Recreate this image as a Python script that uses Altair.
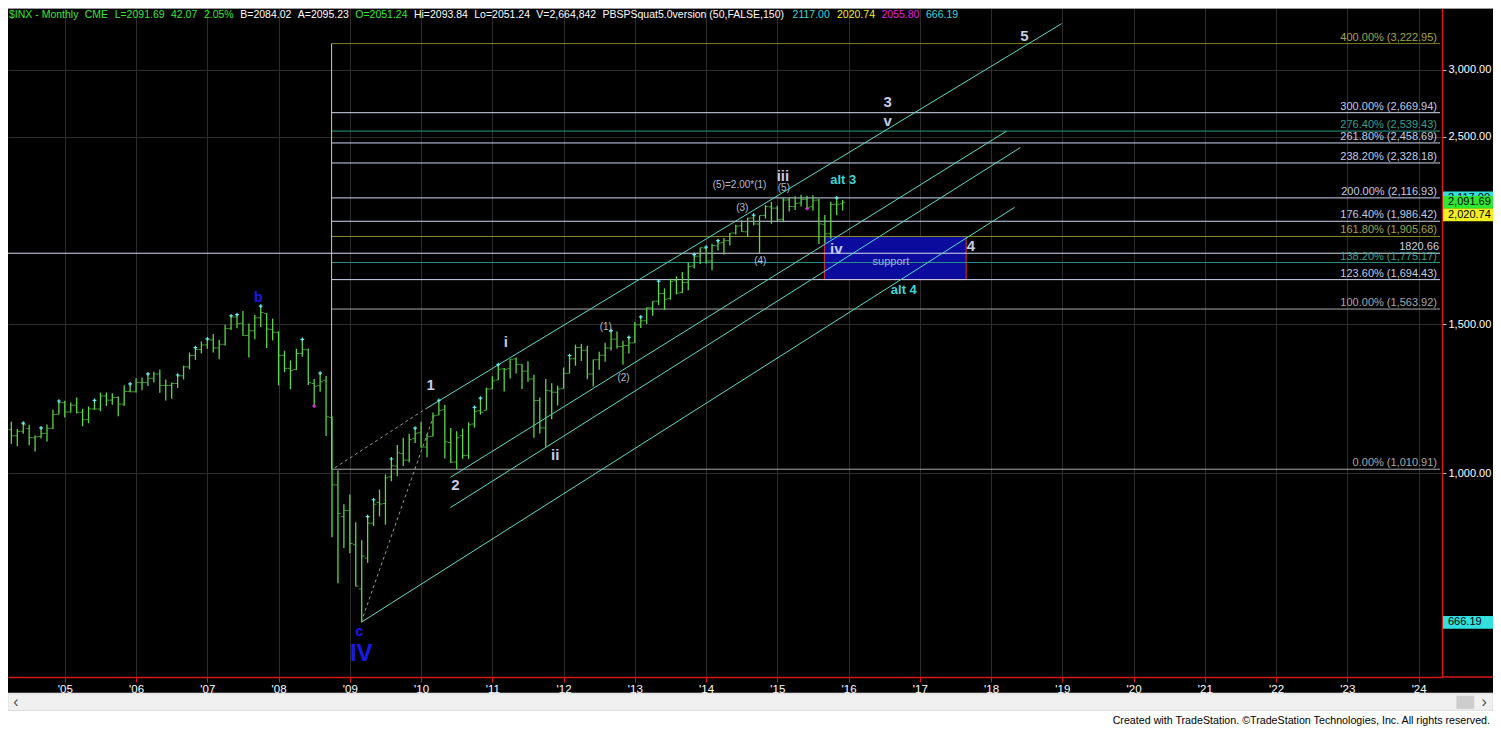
import altair as alt
import pandas as pd

# ------------------------------------------------------------------ data
first_month = "2004-04"

opens = [
    1126.2, 1107.3, 1121.2, 1128.9, 1101.7, 1105.2, 1114.6, 1130.2, 1173.8,
    1211.9, 1181.3, 1203.6, 1180.6, 1156.9, 1191.5, 1191.3, 1234.2, 1220.3, 1228.8, 1207.0, 1249.5,
    1248.3, 1280.1, 1280.7, 1294.9, 1310.6, 1270.1, 1270.2, 1276.7, 1303.8, 1335.9, 1377.9, 1400.6,
    1418.3, 1437.9, 1406.8, 1420.8, 1482.4, 1530.6, 1504.7, 1455.2, 1474.0, 1527.3, 1545.8, 1479.6,
    1468.0, 1378.6, 1330.5, 1326.4, 1386.0, 1399.6, 1276.7, 1269.4, 1287.8, 1164.2, 968.2, 888.6,
    903.0, 823.1, 729.6, 793.6, 872.7, 923.3, 920.8, 990.2, 1019.5, 1054.9, 1036.2, 1098.9,
    1116.6, 1073.9, 1105.4, 1171.2, 1188.6, 1087.3, 1031.1, 1107.5, 1049.7, 1143.5, 1185.7, 1186.6,
    1257.6, 1289.1, 1328.6, 1329.5, 1365.2, 1345.2, 1320.6, 1292.6, 1219.1, 1131.2, 1251.0, 1246.9,
    1258.9, 1312.5, 1365.9, 1408.5, 1397.9, 1310.5, 1362.3, 1379.3, 1406.5, 1440.9, 1412.2, 1416.2,
    1426.2, 1498.1, 1514.7, 1569.2, 1597.6, 1631.7, 1609.8, 1689.4, 1636.0, 1682.4, 1758.7, 1806.6,
    1845.9, 1782.7, 1857.7, 1874.0, 1884.4, 1923.9, 1962.3, 1929.8, 2004.1, 1971.4, 2018.2, 2065.8,
    2058.9, 1996.7, 2105.2, 2067.6, 2087.4, 2108.6, 2067.0, 2104.5, 1970.1, 1919.7, 2080.8, 2082.9,
]
highs = [
    1150.6, 1127.7, 1146.2, 1140.8, 1109.0, 1131.5, 1142.1, 1188.5, 1217.3,
    1217.8, 1212.2, 1229.1, 1191.9, 1199.6, 1219.6, 1245.2, 1245.9, 1243.1, 1233.3, 1270.6, 1275.8,
    1294.9, 1297.6, 1310.9, 1318.2, 1326.7, 1290.7, 1280.4, 1306.7, 1340.3, 1389.5, 1407.9, 1431.8,
    1441.6, 1461.6, 1438.9, 1498.0, 1535.6, 1540.6, 1555.9, 1503.9, 1538.7, 1576.1, 1545.8, 1523.6,
    1471.8, 1396.0, 1359.7, 1404.1, 1440.2, 1404.1, 1292.2, 1313.2, 1303.0, 1167.0, 1007.5, 918.9,
    943.9, 875.0, 833.0, 888.7, 930.2, 956.2, 996.7, 1039.5, 1080.2, 1101.4, 1113.7, 1130.4,
    1150.5, 1112.4, 1180.2, 1219.8, 1205.1, 1131.2, 1121.0, 1129.2, 1148.9, 1196.1, 1227.1, 1262.6,
    1302.7, 1344.1, 1332.3, 1364.6, 1370.6, 1345.2, 1356.5, 1307.4, 1229.3, 1292.7, 1277.6, 1269.4,
    1333.5, 1378.0, 1419.2, 1422.4, 1415.3, 1363.5, 1391.7, 1426.7, 1474.5, 1471.0, 1434.3, 1448.0,
    1509.9, 1530.9, 1570.3, 1597.6, 1687.2, 1654.2, 1698.8, 1709.7, 1729.9, 1775.2, 1813.6, 1849.4,
    1850.8, 1867.9, 1884.0, 1897.3, 1924.0, 1968.2, 1991.4, 2005.0, 2019.3, 2018.2, 2075.8, 2093.6,
    2072.4, 2119.6, 2117.5, 2125.9, 2134.7, 2129.9, 2132.8, 2112.7, 2020.9, 2094.3, 2116.5, 2104.3,
]
lows = [
    1083.3, 1076.3, 1113.3, 1078.8, 1060.7, 1099.2, 1090.2, 1127.6, 1173.8,
    1163.8, 1180.2, 1176.9, 1136.2, 1146.2, 1188.3, 1183.6, 1201.1, 1205.4, 1168.2, 1201.1, 1246.6,
    1245.7, 1253.6, 1268.4, 1280.7, 1245.3, 1219.3, 1224.5, 1261.3, 1290.9, 1327.1, 1361.0, 1385.9,
    1404.0, 1389.4, 1364.0, 1416.4, 1476.7, 1484.2, 1454.3, 1370.6, 1439.9, 1489.6, 1406.1, 1435.7,
    1270.1, 1316.8, 1257.0, 1324.4, 1373.1, 1272.0, 1200.4, 1248.6, 1106.4, 839.8, 741.0, 815.7,
    804.3, 734.5, 666.8, 783.3, 866.1, 888.9, 869.3, 978.5, 992.0, 1020.0, 1029.4, 1085.9,
    1071.6, 1044.5, 1105.4, 1170.7, 1040.8, 1028.3, 1010.9, 1039.7, 1039.7, 1131.9, 1173.0, 1186.6,
    1257.6, 1289.1, 1249.1, 1294.7, 1311.8, 1258.1, 1282.9, 1101.5, 1114.2, 1074.8, 1158.7, 1202.4,
    1258.9, 1312.5, 1340.0, 1357.4, 1292.0, 1266.7, 1325.4, 1354.7, 1396.6, 1403.3, 1343.4, 1385.1,
    1426.2, 1485.0, 1501.5, 1536.0, 1581.3, 1560.3, 1604.6, 1627.5, 1633.4, 1646.5, 1746.2, 1768.0,
    1770.5, 1737.9, 1834.4, 1814.4, 1859.8, 1916.0, 1930.7, 1904.8, 1964.0, 1820.7, 2001.0, 1972.6,
    1988.1, 1980.9, 2039.7, 2048.4, 2067.9, 2056.3, 2044.0, 1867.0, 1871.9, 1893.7, 2019.4, 2045.0,
]
closes = [
    1107.3, 1120.7, 1140.8, 1101.7, 1104.2, 1114.6, 1130.2, 1173.8, 1211.9,
    1181.3, 1203.6, 1180.6, 1156.9, 1191.5, 1191.3, 1234.2, 1220.3, 1228.8, 1207.0, 1249.5, 1248.3,
    1280.1, 1280.7, 1294.9, 1310.6, 1270.1, 1270.2, 1276.7, 1303.8, 1335.9, 1377.9, 1400.6, 1418.3,
    1438.2, 1406.8, 1420.9, 1482.4, 1530.6, 1503.4, 1455.3, 1474.0, 1526.8, 1549.4, 1481.1, 1468.4,
    1378.6, 1330.6, 1322.7, 1385.6, 1400.4, 1280.0, 1267.4, 1282.8, 1166.4, 968.8, 896.2, 903.3,
    825.9, 735.1, 797.9, 872.8, 919.1, 919.3, 987.5, 1020.6, 1057.1, 1036.2, 1095.6, 1115.1,
    1073.9, 1104.5, 1169.4, 1186.7, 1089.4, 1030.7, 1101.6, 1049.3, 1141.2, 1183.3, 1180.6, 1257.6,
    1286.1, 1327.2, 1325.8, 1363.6, 1345.2, 1320.6, 1292.3, 1218.9, 1131.4, 1253.3, 1247.0, 1257.6,
    1312.4, 1365.7, 1408.5, 1397.9, 1310.3, 1362.2, 1379.3, 1406.6, 1440.7, 1412.2, 1416.2, 1426.2,
    1498.1, 1514.7, 1569.2, 1597.6, 1630.7, 1606.3, 1685.7, 1633.0, 1681.6, 1756.5, 1805.8, 1848.4,
    1782.6, 1859.5, 1872.3, 1884.0, 1923.6, 1960.2, 1930.7, 2003.4, 1972.3, 2018.1, 2067.6, 2058.9,
    1995.0, 2104.5, 2067.9, 2085.5, 2107.4, 2063.1, 2103.8, 1972.2, 1920.0, 2079.4, 2080.4, 2091.7,
]

# indicator marks (cyan at bar highs, magenta at bar lows)
squat_high_months = ["2004-06", "2004-09", "2004-12", "2005-06", "2005-12", "2006-03", "2006-08",
                     "2006-11", "2007-01", "2007-05", "2007-06", "2007-10", "2008-05", "2008-08",
                     "2009-04", "2009-05", "2009-08", "2009-12", "2010-04", "2010-10", "2010-11",
                     "2011-02", "2012-02", "2012-09", "2012-12", "2013-02", "2013-05", "2013-11",
                     "2014-01", "2014-03", "2014-09", "2015-11"]
squat_low_months = ["2008-07", "2015-06"]

# Fibonacci extension levels
fib_pcts = [400.0, 300.0, 276.4, 261.8, 238.2, 200.0, 176.4, 161.8, 138.2, 123.6, 100.0, 0.0]
fib_vals = [3222.95, 2669.94, 2539.43, 2458.69, 2328.18, 2116.93, 1986.42, 1905.68, 1775.17,
            1694.43, 1563.92, 1010.91]
fib_t_start = [2008.744]
fib_t_end = [2024.30]
wave4_level = [1820.66]

# channel lines (start / end in date-years and price)
chan_t1 = [2010.06, 2010.41, 2010.41, 2009.16]
chan_p1 = [1191.0, 988.6, 910.3, 666.3]
chan_t2 = [2018.99, 2018.22, 2018.41, 2018.33]
chan_p2 = [3403.0, 2540.0, 2428.0, 2063.0]

# dotted construction lines
dash_t1 = [2008.79, 2009.16]
dash_p1 = [1015.0, 666.8]
dash_t2 = [2010.04, 2010.19]
dash_p2 = [1188.0, 1178.0]

# support zone
support_t = [2015.66, 2017.65]
support_p = [1694.43, 1905.68]

# wave labels
major_txt = ["1", "2", "3", "4", "5"]
major_t = [2010.133, 2010.481, 2016.55, 2017.717, 2018.467]
major_p = [1270, 967.7, 2750, 1859, 3288]
minor_txt = ["i", "ii", "iii", "iv", "v"]
minor_t = [2011.189, 2011.883, 2015.078, 2015.828, 2016.55]
minor_p = [1428, 1051, 2250, 1844, 2607]
sub_txt = ["(1)", "(2)", "(3)", "(4)", "(5)", "(5)=2.00*(1)"]
sub_t = [2012.592, 2012.842, 2014.508, 2014.761, 2015.092, 2014.470]
sub_p = [1490, 1297, 2057, 1781, 2176, 2193]
alt_txt = ["alt 3", "alt 4"]
alt_t = [2015.925, 2016.775]
alt_p = [2222, 1649]
blue_txt = ["b", "c"]
blue_t = [2007.717, 2009.133]
blue_p = [1610, 648.0]
big_txt = ["IV"]
big_t = [2009.161]
big_p = [610.5]
support_txt = ["support"]
support_lt = [2016.594]
support_lp = [1777]

# right-hand price boxes
box_vals = [2117.00, 2091.69, 2020.74, 666.19]

# header line
header_txt = ["$INX - Monthly", "CME", "L=2091.69", "42.07", "2.05%", "B=2084.02", "A=2095.23",
              "O=2051.24", "Hi=2093.84", "Lo=2051.24", "V=2,664,842",
              "PBSPSquat5.0version (50,FALSE,150)", "2117.00", "2020.74", "2055.80", "666.19"]
year_ticks = list(range(2005, 2025))
price_ticks = [1000, 1500, 2500, 3000]
copyright_txt = "Created with TradeStation. \u00a9TradeStation Technologies, Inc. All rights reserved."

# ------------------------------------------------------------------ layout / style
SX = 1485 / 1501
SY = 720 / 736
W = round(1449 * SX)
H = round(684 * SY)
ARIAL = "Liberation Sans, Arial, sans-serif"
RED = "#d81818"
GREEN_BAR = "#5ad646"
CHAN = "#56dcc6"
WAVE = "#c4cce8"
HEADER_FS = 10.5

header_col = ["#33e633"] * 5 + ["#ffffff"] * 2 + ["#33e633"] + ["#ffffff"] * 4 + \
             ["#3fd6d6", "#f0f020", "#e020e0", "#3fd6d6"]
fib_line_col = ["#7d7d22", "#d4dcf4", "#2a9d7f", "#cdd6f2", "#cdd6f2", "#cdd6f2", "#cdd6f2",
                "#8a8a2a", "#2a8f86", "#cdd6f2", "#a8a8a8", "#a8a8a8"]
fib_text_col = ["#a4a444", "#c4cce4", "#36a08a", "#c4cce4", "#c4cce4", "#c4cce4", "#c4cce4",
                "#a4a444", "#36a08a", "#c4cce4", "#a8a8a8", "#a8a8a8"]
box_col = ["#33e0e0", "#2ee82e", "#f0f020", "#33e0e0"]

# approximate Arial advance widths (em) used only to lay out the header segments
_AW = {c: 0.556 for c in "0123456789$aenoquhL"}
_AW.update({".": 0.278, ",": 0.278, " ": 0.278, "t": 0.278, "I": 0.278, "i": 0.222, "l": 0.222,
            "=": 0.584, "%": 0.889, "-": 0.333, "(": 0.333, ")": 0.333, "r": 0.333, "y": 0.5,
            "v": 0.5, "s": 0.5, "N": 0.722, "C": 0.722, "H": 0.722, "M": 0.833, "O": 0.778,
            "X": 0.667, "E": 0.667, "B": 0.667, "A": 0.667, "V": 0.667, "P": 0.667, "S": 0.667,
            "F": 0.611})


def _w(s):
    return sum(_AW.get(ch, 0.556) for ch in s) * HEADER_FS


# first 12 segments spread between x=1 and x=783, last four start at 793 with equal gaps
_first = header_txt[:12]
_gap = (783 - 1 - sum(_w(s) for s in _first)) / (len(_first) - 1)
header_x = []
_x = 1.0
for s in _first:
    header_x.append(_x)
    _x += _w(s) + _gap
_x = 793.0
for s in header_txt[12:]:
    header_x.append(_x)
    _x += _w(s) + 7.0

xs = alt.Scale(domain=[2004.2028, 2024.328], nice=False, zero=False)
ys = alt.Scale(type="log", domain=[574.0, 3551.0], nice=False)

x_axis = alt.Axis(values=year_ticks, labelExpr="\"'\" + substring(toString(datum.value), 2, 4)",
                  grid=True, gridColor="#2c2c2c", domainColor=RED, domainWidth=1.5,
                  tickColor=RED, tickSize=5, labelColor="#ffffff", labelFont=ARIAL,
                  labelFontSize=11.5, labelPadding=1, title=None, labelFlush=False,
                  labelOverlap=False)
y_axis = alt.Axis(orient="right", values=price_ticks, format=",.2f", grid=True,
                  gridColor="#2c2c2c", domainColor=RED, domainWidth=1.5, tickColor="#bbbbbb",
                  tickSize=4, labelColor="#ffffff", labelFont=ARIAL, labelFontSize=11,
                  labelPadding=2, title=None, labelFlush=False, labelOverlap=False)


def xq(f):
    return alt.X(f"{f}:Q", scale=xs, axis=x_axis)


def yq(f):
    return alt.Y(f"{f}:Q", scale=ys, axis=y_axis)


# ------------------------------------------------------------------ frames
months = pd.period_range(first_month, periods=len(closes), freq="M")
bars = pd.DataFrame({
    "month": months.strftime("%Y-%m"),
    "t": months.year + (months.month - 1) / 12.0,
    "o": opens, "h": highs, "l": lows, "c": closes,
})
hi_marks = bars[bars["month"].isin(squat_high_months)]
lo_marks = bars[bars["month"].isin(squat_low_months)]

fib = pd.DataFrame({"p": fib_vals, "t1": fib_t_start * len(fib_vals), "t2": fib_t_end * len(fib_vals),
                    "lbl": [f"{a:.2f}% ({v:,.2f})" for a, v in zip(fib_pcts, fib_vals)],
                    "lc": fib_line_col, "tc": fib_text_col})
chan = pd.DataFrame({"t1": chan_t1, "p1": chan_p1, "t2": chan_t2, "p2": chan_p2})
dash = pd.DataFrame({"t1": dash_t1, "p1": dash_p1, "t2": dash_t2, "p2": dash_p2})
sup = pd.DataFrame({"t1": [support_t[0]], "t2": [support_t[1]], "p1": [support_p[0]], "p2": [support_p[1]]})
w4 = pd.DataFrame({"p": wave4_level, "t1": [2004.2028], "t2": fib_t_end,
                   "lbl": [f"{v:.2f}" for v in wave4_level]})
fibv = pd.DataFrame({"t": fib_t_start, "p1": [fib_vals[-1]], "p2": [fib_vals[0]]})


def labels(txt, t, p):
    return pd.DataFrame({"txt": txt, "t": t, "p": p})


one = pd.DataFrame({"a": [0]})

# ------------------------------------------------------------------ layers
support_box = alt.Chart(sup).mark_rect(fill="#0b0b9e", stroke="#e03030", strokeWidth=1).encode(
    x=xq("t1"), x2="t2:Q", y=yq("p1"), y2="p2:Q")

fib_lines = alt.Chart(fib).mark_rule(strokeWidth=1).encode(
    x=xq("t1"), x2="t2:Q", y=yq("p"), color=alt.Color("lc:N", scale=None))
fib_vert = alt.Chart(fibv).mark_rule(color="#c8c8c8", strokeWidth=1).encode(
    x=xq("t"), y=yq("p1"), y2="p2:Q")
w4_line = alt.Chart(w4).mark_rule(color="#d8dcec", strokeWidth=1).encode(
    x=xq("t1"), x2="t2:Q", y=yq("p"))
fib_text = alt.Chart(fib).mark_text(align="right", baseline="bottom", dy=-1, font=ARIAL,
                                   fontSize=11, xOffset=-3).encode(
    x=xq("t2"), y=yq("p"), text="lbl:N", color=alt.Color("tc:N", scale=None))
w4_text = alt.Chart(w4).mark_text(align="right", baseline="bottom", dy=-1, font=ARIAL,
                                  fontSize=11, color="#c8d0e8", xOffset=-1).encode(
    x=xq("t2"), y=yq("p"), text="lbl:N")

chan_lines = alt.Chart(chan).mark_rule(color=CHAN, strokeWidth=1).encode(
    x=xq("t1"), x2="t2:Q", y=yq("p1"), y2="p2:Q")
dash_lines = alt.Chart(dash).mark_rule(color="#9a9a9a", strokeWidth=1, strokeDash=[3, 3]).encode(
    x=xq("t1"), x2="t2:Q", y=yq("p1"), y2="p2:Q")

hl = alt.Chart(bars).mark_rule(color=GREEN_BAR, strokeWidth=1.3).encode(
    x=xq("t"), y=yq("l"), y2="h:Q")
open_tick = alt.Chart(bars).mark_tick(color=GREEN_BAR, orient="horizontal", size=2.5,
                                      thickness=1, xOffset=-1.6).encode(x=xq("t"), y=yq("o"))
close_tick = alt.Chart(bars).mark_tick(color=GREEN_BAR, orient="horizontal", size=2.5,
                                       thickness=1, xOffset=1.6).encode(x=xq("t"), y=yq("c"))
cross = "M-1,0L1,0M0,-1L0,1"
hi_pts = alt.Chart(hi_marks).mark_point(shape=cross, filled=False, color="#66eef0", size=14,
                                        strokeWidth=1.2, opacity=1).encode(x=xq("t"), y=yq("h"))
lo_pts = alt.Chart(lo_marks).mark_point(shape=cross, filled=False, color="#e030e0", size=14,
                                        strokeWidth=1.2, opacity=1).encode(x=xq("t"), y=yq("l"))


def text_layer(df, color, size, bold=True):
    return alt.Chart(df).mark_text(align="center", baseline="middle", font=ARIAL, fontSize=size,
                                   fontWeight="bold" if bold else "normal", color=color).encode(
        x=xq("t"), y=yq("p"), text="txt:N")


major_l = text_layer(labels(major_txt, major_t, major_p), WAVE, 15)
minor_l = text_layer(labels(minor_txt, minor_t, minor_p), WAVE, 15)
sub_l = text_layer(labels(sub_txt, sub_t, sub_p), "#b4bcd4", 10, bold=False)
alt_l = text_layer(labels(alt_txt, alt_t, alt_p), "#40d4d4", 13)
blue_l = text_layer(labels(blue_txt, blue_t, blue_p), "#1a1aee", 14)
big_l = text_layer(labels(big_txt, big_t, big_p), "#1a1ae6", 24)
support_l = text_layer(labels(support_txt, support_lt, support_lp), "#a8b4e0", 11, bold=False)

# header (one text layer per segment, pixel placed)
header_layers = [
    alt.Chart(one).mark_text(text=txt, align="left", baseline="middle", font=ARIAL,
                             fontSize=HEADER_FS, color=col).encode(
        x=alt.value(px * SX), y=alt.value(7 * SY))
    for txt, px, col in zip(header_txt, header_x, header_col)
]
top_line = alt.Chart(one).mark_rule(color="#9a9a9a", strokeWidth=1).encode(
    x=alt.value(0), x2=alt.value(1485), y=alt.value(0.5))

# right-side price boxes
box_layers = []
for v, c in zip(box_vals, box_col):
    d = pd.DataFrame({"p": [v], "lbl": [f"{v:,.2f}"]})
    box_layers.append(alt.Chart(d).mark_rule(color=c, strokeWidth=13 * SY, strokeCap="butt").encode(
        x=alt.value(W + 1), x2=alt.value(W + 51), y=yq("p")))
    box_layers.append(alt.Chart(d).mark_text(align="left", baseline="middle", font=ARIAL,
                                             fontSize=11, color="#000000").encode(
        x=alt.value(W + 6), y=yq("p"), text="lbl:N"))

# bottom decorations
red_ext = alt.Chart(one).mark_rule(color=RED, strokeWidth=1.5).encode(
    x=alt.value(W), x2=alt.value(1485), y=alt.value(H))
white_area = alt.Chart(one).mark_rect(color="#ffffff").encode(
    x=alt.value(0), x2=alt.value(1485), y=alt.value(700 * SY), y2=alt.value(720))
scroll = alt.Chart(one).mark_rect(color="#f0f0f0", stroke="#dcdcdc").encode(
    x=alt.value(0), x2=alt.value(1485), y=alt.value(701 * SY), y2=alt.value(718 * SY))
thumb = alt.Chart(one).mark_rect(color="#cdcdcd").encode(
    x=alt.value(1464 * SX), x2=alt.value(1482 * SX), y=alt.value(703 * SY), y2=alt.value(716.5 * SY))
arr_l = alt.Chart(one).mark_text(text="\u2039", fontSize=16, color="#505050", font=ARIAL).encode(
    x=alt.value(8 * SX), y=alt.value(709.5 * SY))
arr_r = alt.Chart(one).mark_text(text="\u203a", fontSize=16, color="#505050", font=ARIAL).encode(
    x=alt.value(1492 * SX), y=alt.value(709.5 * SY))
copyright_l = alt.Chart(one).mark_text(text=copyright_txt, align="right", baseline="middle",
                                       font=ARIAL, fontSize=10.7, color="#000000").encode(
    x=alt.value(1498 * SX), y=alt.value(729 * SY))

chart = alt.layer(
    support_box, fib_lines, w4_line, fib_vert, chan_lines, dash_lines,
    hl, open_tick, close_tick, hi_pts, lo_pts,
    fib_text, w4_text,
    major_l, minor_l, sub_l, alt_l, blue_l, big_l, support_l,
    top_line, *header_layers, *box_layers,
    red_ext, white_area, scroll, thumb, arr_l, arr_r, copyright_l,
).properties(
    width=W, height=H,
    autosize=alt.AutoSizeParams(type="none"),
    padding={"left": 0, "top": 0, "right": 1485 - W, "bottom": 720 - H},
    background="#000000",
).configure_view(strokeWidth=0)

chart.save("out.html", embed_options={"renderer": "svg", "actions": False})
